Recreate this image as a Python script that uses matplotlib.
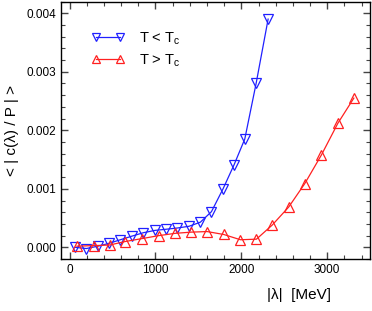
import matplotlib
matplotlib.use("Agg")
import matplotlib.pyplot as plt
from matplotlib.ticker import MultipleLocator

plt.rcParams['font.family'] = ['Liberation Sans', 'DejaVu Sans']
plt.rcParams['mathtext.default'] = 'regular'

# T < Tc (blue, down triangles)
lam_below = [67, 195, 330, 463, 591, 722, 859, 994, 1127, 1252, 1390, 1523,
             1652, 1787, 1915, 2040, 2172, 2312]
c_below = [0.0, -0.00002, 0.00002, 0.00007, 0.00013, 0.00019, 0.00025, 0.00029,
           0.00031, 0.00033, 0.00036, 0.00043, 0.00061, 0.00100, 0.00141,
           0.00185, 0.00280, 0.00390]

# T > Tc (red, up triangles)
lam_above = [86, 280, 466, 649, 844, 1037, 1232, 1415, 1601, 1795, 1990, 2176,
             2359, 2552, 2739, 2933, 3124, 3310]
c_above = [0.00002, 0.00003, 0.00004, 0.00010, 0.00015, 0.00020, 0.00024,
           0.00026, 0.00027, 0.00022, 0.00013, 0.00014, 0.00038, 0.00069,
           0.00109, 0.00158, 0.00212, 0.00255]

labels = ['T < T$_c$', 'T > T$_c$']

fig = plt.figure(figsize=(3.72, 3.11), dpi=100)
ax = fig.add_axes([0.164, 0.167, 0.831, 0.828])

ax.plot(lam_below, c_below, color='#2020ff', lw=0.9, marker='v', ms=6.5,
        mfc='none', mec='#2020ff', mew=0.9, label=labels[0])
ax.plot(lam_above, c_above, color='#ff2020', lw=0.9, marker='^', ms=6.5,
        mfc='none', mec='#ff2020', mew=0.9, label=labels[1])

ax.set_xlim(-100, 3500)
ax.set_ylim(-0.0002, 0.0042)
ax.set_xticks([0, 1000, 2000, 3000])
ax.set_yticks([0.0, 0.001, 0.002, 0.003, 0.004])
ax.set_yticklabels(['0.000', '0.001', '0.002', '0.003', '0.004'])
ax.xaxis.set_minor_locator(MultipleLocator(200))
ax.yaxis.set_minor_locator(MultipleLocator(0.0002))
ax.tick_params(which='both', direction='in', top=True, right=True,
               labelsize=8.5, color='#444444')
ax.tick_params(which='major', length=5, width=1.0)
ax.tick_params(which='minor', length=3, width=0.8)
for s in ax.spines.values():
    s.set_linewidth(1.0)

ax.set_ylabel('< | c(λ) / P | >', fontsize=11, labelpad=5)
fig.text(0.89, 0.03, '|λ|  [MeV]', fontsize=11, ha='right', va='bottom')

leg = ax.legend(loc='upper left', bbox_to_anchor=(0.055, 0.94), frameon=False,
                fontsize=10.5, numpoints=2, markerscale=0.9, handlelength=2.3,
                handletextpad=1.0, labelspacing=0.4)

fig.savefig('out.png', dpi=100)
